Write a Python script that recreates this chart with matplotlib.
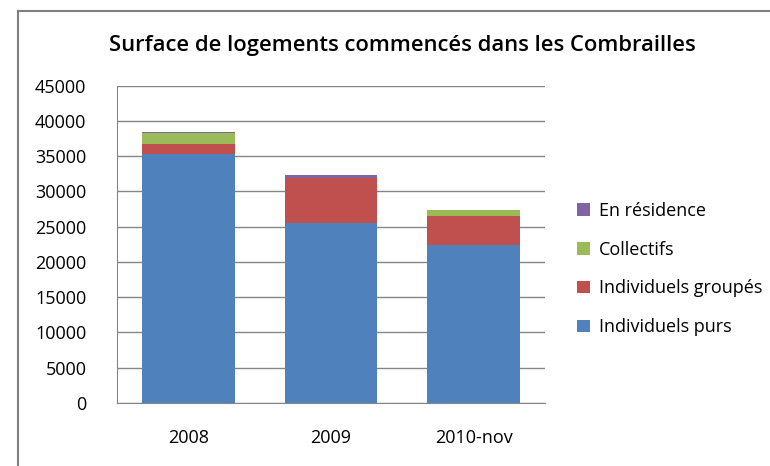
import matplotlib
matplotlib.use("Agg")
import matplotlib.pyplot as plt
import numpy as np

# data
years = ["2008", "2009", "2010-nov"]
individuels_purs = [35300, 25500, 22400]
individuels_groupes = [1400, 6400, 4100]
collectifs = [1500, 0, 850]
en_residence = [150, 400, 0]

series = [
    ("Individuels purs", individuels_purs, "#4F81BD"),
    ("Individuels groupés", individuels_groupes, "#C0504D"),
    ("Collectifs", collectifs, "#9BBB59"),
    ("En résidence", en_residence, "#8064A2"),
]

plt.rcParams["font.family"] = ["Open Sans", "DejaVu Sans"]

fig = plt.figure(figsize=(7.7, 4.66), dpi=100)
W, H = 770, 466

# outer chart border (left and top visible)
fig.add_artist(plt.Line2D([17.5 / W, 17.5 / W], [-0.01, 1 - 11 / H], color="#7F7F7F", lw=1.5))
fig.add_artist(plt.Line2D([17.5 / W, 1.02], [1 - 11 / H, 1 - 11 / H], color="#7F7F7F", lw=1.5))

ax = fig.add_axes([117 / W, (H - 403) / H, (545 - 117) / W, (403 - 85.5) / H])

x = np.arange(len(years))
bottom = np.zeros(len(years))
handles = []
for name, vals, col in series:
    b = ax.bar(x, vals, width=0.65, bottom=bottom, color=col, label=name, zorder=3)
    handles.append(b)
    bottom += np.array(vals)

ax.set_xlim(-0.5, len(years) - 0.5)
ax.set_ylim(0, 45000)
ax.set_yticks(np.arange(0, 45001, 5000))
ax.set_xticks(x)
ax.set_xticklabels(years)
ax.yaxis.grid(True, color="#868686", lw=1, zorder=0)
for s in ["top", "right"]:
    ax.spines[s].set_visible(False)
for s in ["left", "bottom"]:
    ax.spines[s].set_color("#868686")
ax.tick_params(axis="both", length=0, labelsize=13, colors="#000000")
ax.tick_params(axis="y", pad=22)
ax.tick_params(axis="x", pad=19)

fig.text(402 / W, 1 - 45 / H, "Surface de logements commencés dans les Combrailles",
         ha="center", va="center", fontsize=15.8, fontweight="semibold")

fig.legend(handles[::-1], [s[0] for s in series][::-1], loc="center left",
           bbox_to_anchor=(561 / W, 1 - 269 / H), frameon=False, fontsize=13,
           handlelength=0.7, handleheight=0.7, handletextpad=0.5, labelspacing=1.15)

fig.savefig("out.png", dpi=100)
